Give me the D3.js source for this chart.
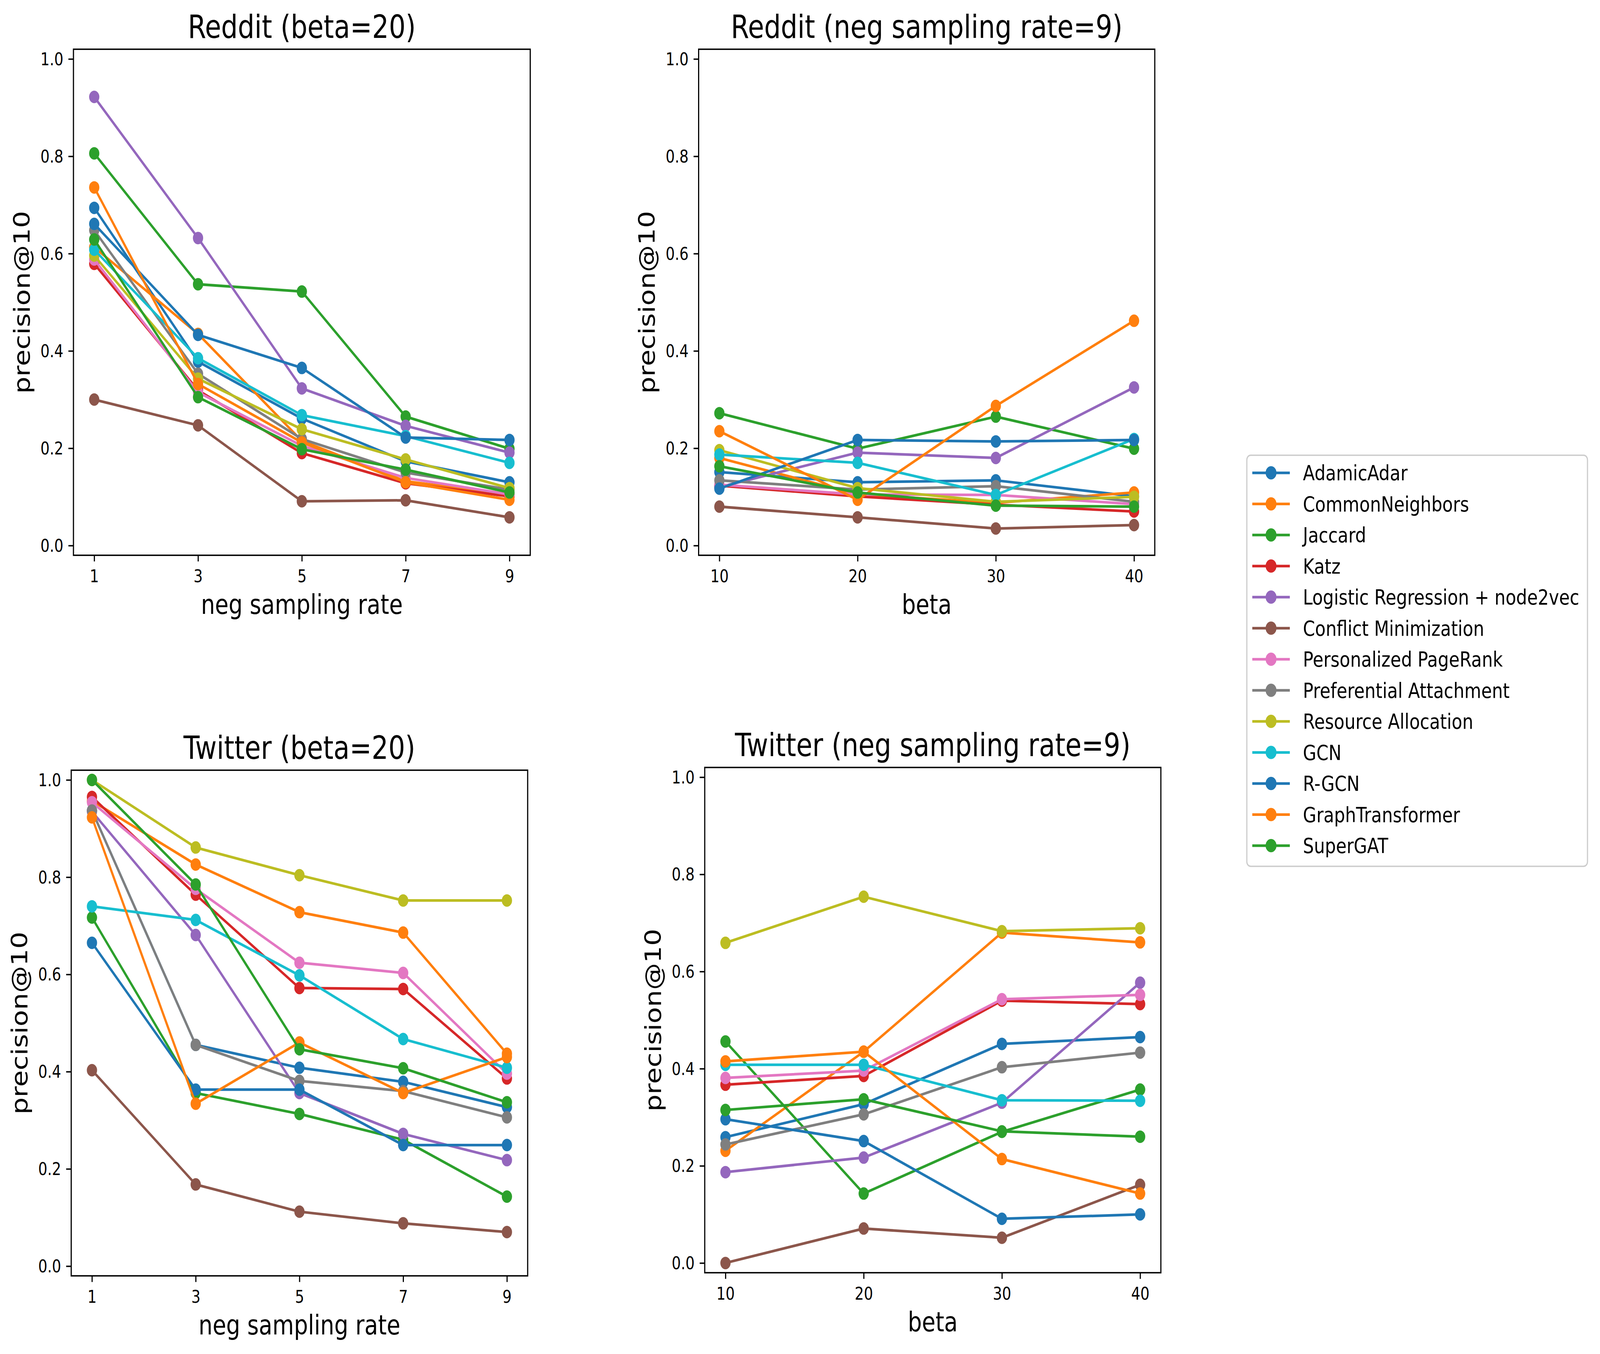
<!DOCTYPE html>
<html><head><meta charset="utf-8">
<script src="https://cdn.jsdelivr.net/npm/d3@7"></script>
<style>
html,body{margin:0;padding:0;background:#fff;overflow:hidden;width:100%;height:100%}
#chart{display:block;width:100vw;height:100vh}
</style>
</head><body>
<svg id="chart" viewBox="0 0 4988 3465" preserveAspectRatio="none" xmlns="http://www.w3.org/2000/svg"></svg>
<script>
// ---------- data ----------
const methods = ["AdamicAdar","CommonNeighbors","Jaccard","Katz","Logistic Regression + node2vec",
  "Conflict Minimization","Personalized PageRank","Preferential Attachment","Resource Allocation",
  "GCN","R-GCN","GraphTransformer","SuperGAT"];
const colors = ["#1f77b4","#ff7f0e","#2ca02c","#d62728","#9467bd","#8c564b","#e377c2",
  "#7f7f7f","#bcbd22","#17becf","#1f77b4","#ff7f0e","#2ca02c"];
const negRates = [1,3,5,7,9];
const betas = [10,20,30,40];
const yTicks = [0.0,0.2,0.4,0.6,0.8,1.0];

// Reddit, beta=20, x = neg sampling rate
const redditByNeg = [
  [0.694,0.378,0.261,0.173,0.130],
  [0.613,0.435,0.215,0.132,0.105],
  [0.806,0.537,0.522,0.265,0.199],
  [0.579,0.319,0.190,0.128,0.101],
  [0.922,0.632,0.323,0.246,0.191],
  [0.300,0.247,0.091,0.093,0.058],
  [0.588,0.315,0.205,0.139,0.105],
  [0.648,0.353,0.219,0.150,0.115],
  [0.596,0.343,0.239,0.177,0.118],
  [0.608,0.385,0.268,0.225,0.170],
  [0.661,0.433,0.365,0.222,0.217],
  [0.736,0.332,0.212,0.130,0.094],
  [0.629,0.305,0.198,0.156,0.109]
];
// Reddit, neg sampling rate=9, x = beta
const redditByBeta = [
  [0.151,0.130,0.134,0.101],
  [0.180,0.105,0.088,0.109],
  [0.272,0.199,0.265,0.199],
  [0.123,0.101,0.084,0.070],
  [0.120,0.191,0.180,0.325],
  [0.080,0.058,0.035,0.042],
  [0.125,0.105,0.104,0.085],
  [0.134,0.115,0.122,0.090],
  [0.196,0.118,0.090,0.100],
  [0.187,0.170,0.104,0.219],
  [0.117,0.217,0.214,0.217],
  [0.235,0.094,0.287,0.462],
  [0.163,0.109,0.082,0.080]
];
// Twitter, beta=20, x = neg sampling rate
const twitterByNeg = [
  [0.937,0.455,0.408,0.379,0.327],
  [0.957,0.826,0.728,0.686,0.437],
  [0.717,0.356,0.313,0.260,0.143],
  [0.965,0.764,0.572,0.570,0.386],
  [0.935,0.681,0.356,0.272,0.218],
  [0.403,0.168,0.112,0.088,0.070],
  [0.954,0.776,0.624,0.603,0.396],
  [0.937,0.455,0.381,0.360,0.306],
  [1.000,0.861,0.804,0.752,0.752],
  [0.740,0.712,0.598,0.467,0.408],
  [0.665,0.363,0.363,0.249,0.249],
  [0.923,0.334,0.460,0.356,0.430],
  [1.000,0.785,0.446,0.407,0.337]
];
// Twitter, neg sampling rate=9, x = beta
const twitterByBeta = [
  [0.259,0.327,0.451,0.465],
  [0.231,0.435,0.680,0.660],
  [0.456,0.143,0.270,0.357],
  [0.367,0.385,0.540,0.533],
  [0.187,0.217,0.330,0.577],
  [0.000,0.071,0.052,0.161],
  [0.381,0.396,0.543,0.552],
  [0.244,0.306,0.403,0.433],
  [0.659,0.754,0.683,0.689],
  [0.408,0.408,0.335,0.334],
  [0.296,0.251,0.091,0.100],
  [0.415,0.435,0.214,0.143],
  [0.315,0.337,0.271,0.260]
];

// ---------- layout ----------
const FONT = "DejaVu Sans, Verdana, sans-serif";
const LW = 6.75, MR = 16, SPINE = 3.6, TICKLEN = 15.75;
const panels = [
  {title:"Reddit (beta=20)", xLabel:"neg sampling rate", xs:negRates, data:redditByNeg,
   box:{x0:229,x1:1653,y0:126,y1:1421}, xDomain:[0.6,9.4]},
  {title:"Reddit (neg sampling rate=9)", xLabel:"beta", xs:betas, data:redditByBeta,
   box:{x0:2178,x1:3600,y0:126,y1:1421}, xDomain:[8.5,41.5]},
  {title:"Twitter (beta=20)", xLabel:"neg sampling rate", xs:negRates, data:twitterByNeg,
   box:{x0:222,x1:1645,y0:1971,y1:3265}, xDomain:[0.6,9.4]},
  {title:"Twitter (neg sampling rate=9)", xLabel:"beta", xs:betas, data:twitterByBeta,
   box:{x0:2197,x1:3619,y0:1964,y1:3257}, xDomain:[8.5,41.5]}
];

const svg = d3.select("#chart");
svg.append("rect").attr("width",4988).attr("height",3465).attr("fill","#fff");

panels.forEach(p => {
  const b = p.box;
  const x = d3.scaleLinear().domain(p.xDomain).range([b.x0,b.x1]);
  const y = d3.scaleLinear().domain([-0.02,1.02]).range([b.y1,b.y0]);
  const g = svg.append("g");

  const line = d3.line().x((d,i)=>x(p.xs[i])).y(d=>y(d));
  p.data.forEach((vals,mi) => {
    const sg = g.append("g");
    sg.append("path").attr("d",line(vals)).attr("fill","none")
      .attr("stroke",colors[mi]).attr("stroke-width",LW)
      .attr("stroke-linejoin","round").attr("stroke-linecap","square");
    sg.selectAll("circle").data(vals).enter().append("circle")
      .attr("cx",(d,i)=>x(p.xs[i])).attr("cy",d=>y(d)).attr("r",MR)
      .attr("fill",colors[mi]);
  });

  g.append("rect").attr("x",b.x0).attr("y",b.y0).attr("width",b.x1-b.x0).attr("height",b.y1-b.y0)
    .attr("fill","none").attr("stroke","#000").attr("stroke-width",SPINE);

  const ya = d3.axisLeft(y).tickValues(yTicks).tickFormat(d3.format(".1f"))
    .tickSize(TICKLEN).tickPadding(15.75);
  const yg = g.append("g").attr("transform",`translate(${b.x0},0)`).call(ya);
  yg.select(".domain").remove();
  yg.selectAll(".tick line").attr("stroke","#000").attr("stroke-width",SPINE);
  yg.selectAll(".tick text").attr("font-family",FONT).attr("font-size",45).attr("fill","#000")
    .attr("dy",null).attr("dominant-baseline","central");

  const xa = d3.axisBottom(x).tickValues(p.xs).tickFormat(d3.format("d"))
    .tickSize(TICKLEN).tickPadding(15.75);
  const xg = g.append("g").attr("transform",`translate(0,${b.y1})`).call(xa);
  xg.select(".domain").remove();
  xg.selectAll(".tick line").attr("stroke","#000").attr("stroke-width",SPINE);
  xg.selectAll(".tick text").attr("font-family",FONT).attr("font-size",45).attr("fill","#000")
    .attr("dy",null).attr("y",69).attr("dominant-baseline","auto");

  const cx = (b.x0+b.x1)/2, cy = (b.y0+b.y1)/2;
  g.append("text").attr("x",cx).attr("y",b.y0-29).attr("text-anchor","middle")
    .attr("font-family",FONT).attr("font-size",82).attr("fill","#000").text(p.title);
  g.append("text").attr("x",cx).attr("y",b.y1+150).attr("text-anchor","middle")
    .attr("font-family",FONT).attr("font-size",69).attr("fill","#000").text(p.xLabel);
  g.append("text").attr("transform",`translate(${b.x0-137},${cy}) rotate(-90)`)
    .attr("text-anchor","middle").attr("font-family",FONT).attr("font-size",69)
    .attr("fill","#000").text("precision@10");
});

// ---------- legend ----------
const lg = svg.append("g");
lg.append("rect").attr("x",3887).attr("y",1165).attr("width",4949-3887).attr("height",2217-1165)
  .attr("rx",12).attr("ry",12).attr("fill","#fff").attr("fill-opacity",0.8)
  .attr("stroke","#cccccc").attr("stroke-width",3.6);
const ly = d3.scaleLinear().domain([0,12]).range([1210,2164]);
methods.forEach((m,i) => {
  const yy = ly(i);
  lg.append("line").attr("x1",3904).attr("x2",4021).attr("y1",yy).attr("y2",yy)
    .attr("stroke",colors[i]).attr("stroke-width",LW);
  lg.append("circle").attr("cx",3962.5).attr("cy",yy).attr("r",MR+1).attr("fill",colors[i]);
  lg.append("text").attr("x",4062).attr("y",yy+19.5).attr("font-family",FONT)
    .attr("font-size",54).attr("fill","#000").text(m);
});
</script>
</body></html>
